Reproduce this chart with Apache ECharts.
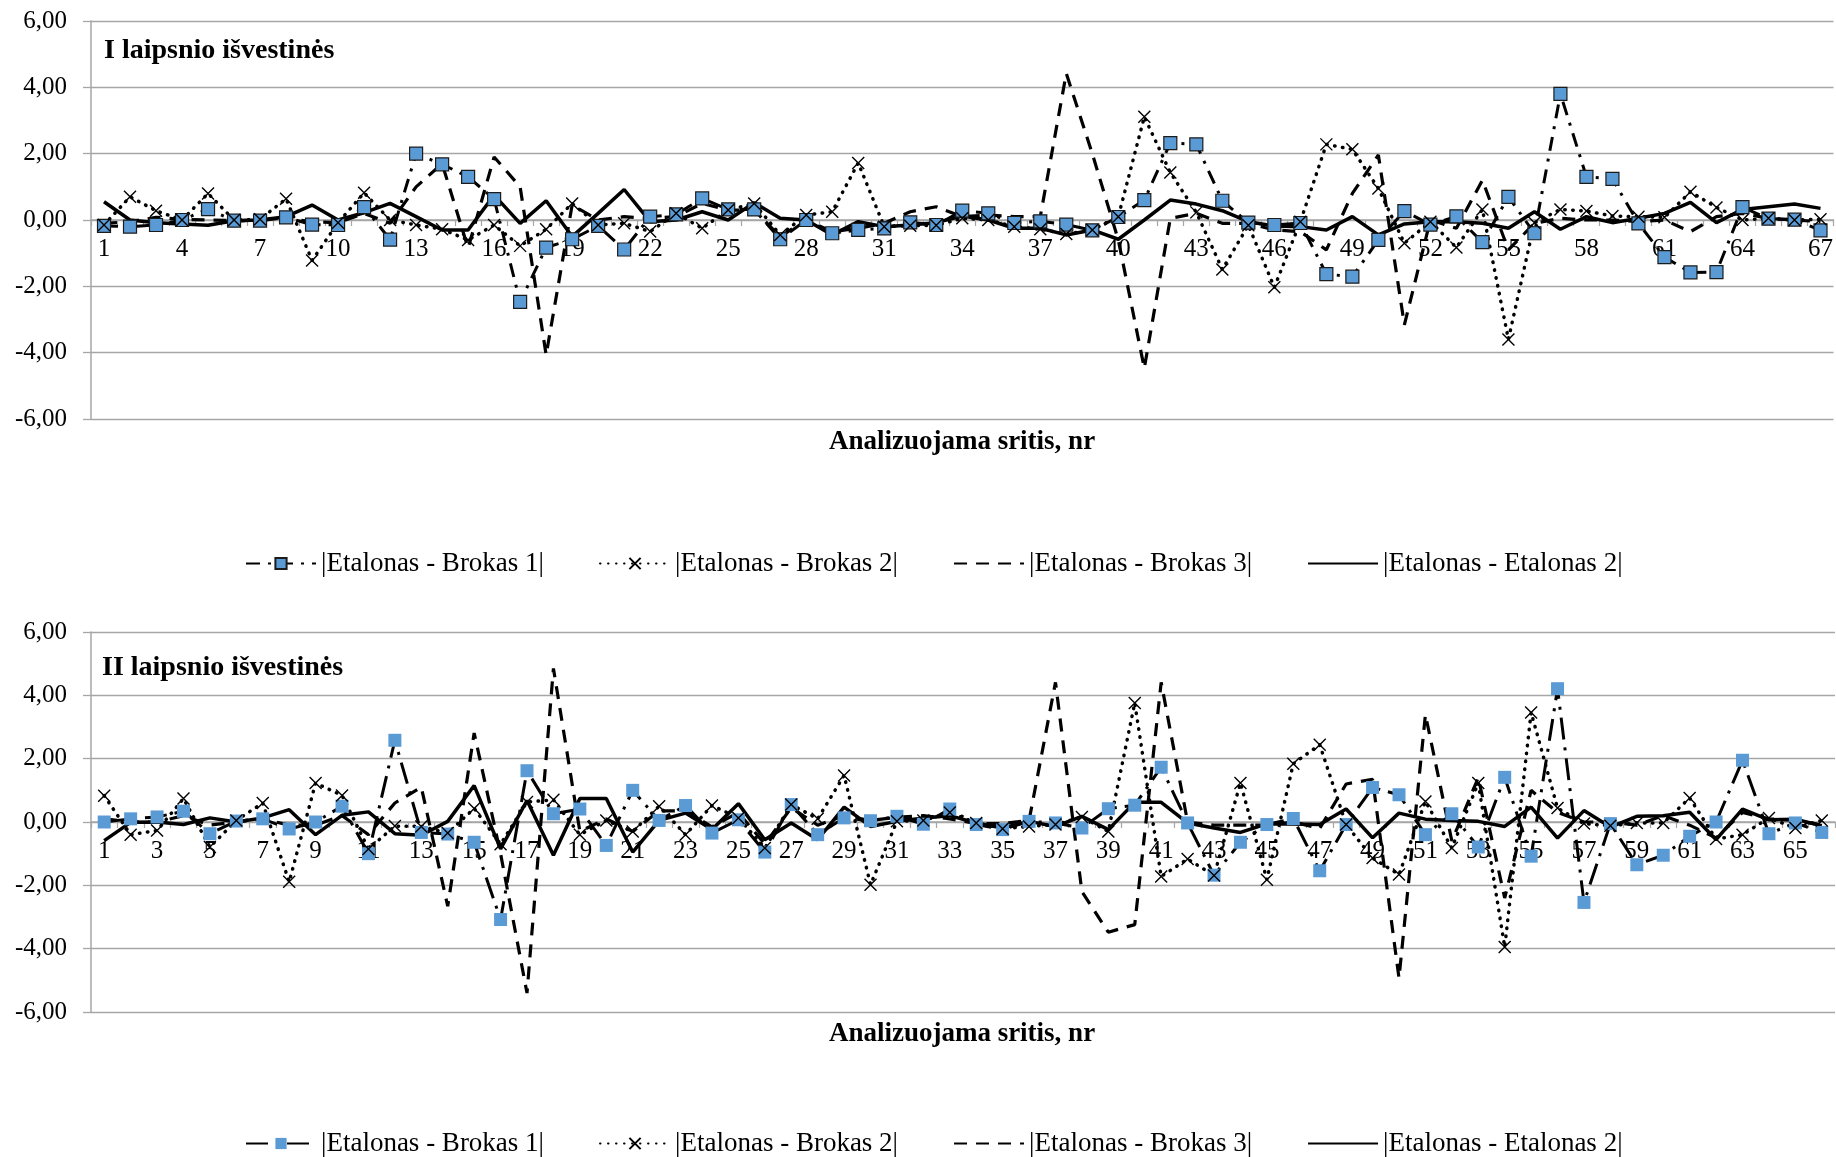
<!DOCTYPE html>
<html><head><meta charset="utf-8">
<script src="https://cdn.jsdelivr.net/npm/echarts@6/dist/echarts.min.js"></script>
<style>html,body{margin:0;padding:0;background:#fff}#c{width:1836px;height:1157px}</style>
</head><body><div id="c"></div>
<script>
const NAMES = ['|Etalonas - Brokas 1|', '|Etalonas - Brokas 2|', '|Etalonas - Brokas 3|', '|Etalonas - Etalonas 2|'];
const TITLE_TOP = 'I laipsnio išvestinės';
const TITLE_BOT = 'II laipsnio išvestinės';
const X_NAME = 'Analizuojama sritis, nr';
const Y_TICKS = [-6, -4, -2, 0, 2, 4, 6];

const catsTop = Array.from({length: 67}, (_, i) => String(i + 1));
const catsBot = Array.from({length: 66}, (_, i) => String(i + 1));

// I laipsnio išvestinės
const topB1 = [-0.18,-0.20,-0.15,0.00,0.33,-0.02,-0.02,0.08,-0.14,-0.15,0.39,-0.59,2.00,1.68,1.30,0.63,-2.47,-0.83,-0.58,-0.18,-0.89,0.10,0.17,0.65,0.32,0.32,-0.58,0.00,-0.40,-0.30,-0.25,-0.07,-0.15,0.28,0.20,-0.09,-0.04,-0.14,-0.31,0.09,0.60,2.32,2.28,0.58,-0.08,-0.15,-0.09,-1.63,-1.71,-0.60,0.27,-0.14,0.11,-0.67,0.70,-0.40,3.80,1.30,1.24,-0.10,-1.12,-1.58,-1.57,0.39,0.04,0.01,-0.31];
const topB2 = [-0.15,0.70,0.28,0.00,0.80,0.00,0.02,0.64,-1.22,-0.08,0.82,0.00,-0.15,-0.28,-0.60,-0.15,-0.78,-0.28,0.50,-0.15,-0.10,-0.35,0.20,-0.25,0.30,0.50,-0.45,0.15,0.25,1.72,-0.20,-0.17,-0.16,0.05,0.00,-0.20,-0.28,-0.42,-0.30,0.10,3.11,1.43,0.23,-1.49,-0.16,-2.03,-0.05,2.28,2.13,0.95,-0.70,-0.05,-0.83,0.32,-3.60,-0.08,0.32,0.27,0.12,0.10,0.08,0.85,0.38,0.00,0.05,0.00,0.02];
const topB3 = [-0.10,-0.05,0.08,0.02,0.00,-0.02,0.00,0.05,-0.05,-0.08,0.20,-0.10,1.00,1.70,-0.85,1.90,1.00,-4.07,0.45,0.00,0.10,0.05,0.10,0.50,0.30,0.30,-0.50,0.00,-0.35,-0.25,-0.10,0.25,0.40,0.10,0.15,0.10,0.10,4.42,2.00,-0.60,-4.47,0.05,0.20,-0.10,-0.10,-0.30,-0.35,-0.90,0.80,1.96,-3.16,0.00,-0.25,1.20,-0.90,-0.10,0.05,0.00,0.00,-0.05,0.00,-0.35,0.10,0.20,0.05,0.00,-0.05];
const topE2 = [0.55,0.00,-0.08,-0.12,-0.16,-0.02,0.00,0.10,0.45,0.00,0.22,0.50,0.10,-0.30,-0.30,0.75,-0.10,0.58,-0.50,0.20,0.92,-0.05,0.00,0.25,0.00,0.52,0.05,0.00,-0.45,-0.05,-0.20,-0.15,-0.08,0.12,0.00,-0.25,-0.25,-0.45,-0.30,-0.58,0.00,0.60,0.48,0.28,-0.05,-0.18,-0.20,-0.30,0.10,-0.45,-0.12,-0.05,-0.05,-0.10,-0.25,0.25,-0.28,0.10,-0.08,0.05,0.20,0.53,-0.08,0.32,0.40,0.48,0.35];

// II laipsnio išvestinės
const botB1 = [0.00,0.10,0.16,0.34,-0.37,0.03,0.10,-0.22,0.00,0.50,-1.00,2.58,-0.33,-0.38,-0.64,-3.08,1.62,0.26,0.41,-0.74,1.00,0.05,0.52,-0.35,0.07,-0.95,0.55,-0.40,0.13,0.04,0.18,-0.07,0.41,-0.08,-0.24,0.02,-0.03,-0.19,0.42,0.53,1.73,-0.03,-1.68,-0.64,-0.08,0.11,-1.54,-0.08,1.09,0.86,-0.40,0.26,-0.79,1.41,-1.08,4.21,-2.54,-0.05,-1.35,-1.05,-0.45,0.00,1.95,-0.37,-0.03,-0.33];
const botB2 = [0.83,-0.40,-0.27,0.74,-0.79,0.05,0.60,-1.89,1.23,0.84,-0.85,-0.13,-0.14,-0.35,0.43,-0.70,0.63,0.70,-0.40,0.05,-0.30,0.50,-0.40,0.52,0.13,-0.82,0.55,0.10,1.47,-1.98,0.02,0.05,0.30,-0.03,-0.21,-0.14,-0.08,0.16,-0.30,3.76,-1.72,-1.17,-1.69,1.23,-1.82,1.84,2.44,-0.08,-1.14,-1.66,0.65,-0.82,1.23,-3.95,3.46,0.44,-0.05,-0.12,-0.03,-0.03,0.76,-0.54,-0.40,0.13,-0.19,0.05];
const botB3 = [0.10,0.00,0.00,0.20,-0.10,0.00,0.10,-0.10,-0.10,0.20,-0.40,0.60,1.10,-2.66,2.81,-1.00,-5.40,4.85,-0.30,0.10,-0.30,0.35,0.35,-0.15,0.30,-0.70,0.45,-0.10,0.20,0.05,0.15,0.20,0.10,-0.05,-0.05,0.05,4.41,-2.20,-3.48,-3.24,4.41,0.00,-0.10,-0.10,-0.10,0.00,-0.20,1.20,1.35,-4.93,3.39,-0.60,1.40,-2.40,1.00,0.30,0.00,0.00,-0.10,0.20,-0.10,-0.50,0.30,0.10,0.05,-0.10];
const botE2 = [-0.59,-0.01,0.00,-0.08,0.13,0.00,0.13,0.39,-0.40,0.21,0.32,-0.37,-0.42,0.02,1.15,-0.85,0.68,-1.05,0.74,0.74,-0.95,0.05,0.28,-0.24,0.58,-0.56,-0.03,-0.56,0.47,-0.14,0.02,0.13,0.20,-0.03,-0.19,0.02,-0.14,0.18,-0.24,0.62,0.62,-0.03,-0.19,-0.33,-0.06,-0.06,-0.08,0.41,-0.50,0.28,0.09,0.05,0.02,-0.14,0.47,-0.51,0.36,-0.16,0.18,0.20,0.31,-0.56,0.41,0.07,0.09,-0.12];

const FONT = '"Liberation Serif", "Times New Roman", serif';
const GRID_C = '#a6a6a6';
const BLUE = '#5B9BD5';
const XSYM = 'path://M0 0L10 10M10 0L0 10';
const BOT_SUFFIX = '\u200b';
const GRIDS = [
  {left: 91, top: 21, width: 1743, height: 398},
  {left: 91, top: 632, width: 1744, height: 380}
];

function xAxis(gi, cats, labInt) {
  return {
    type: 'category', gridIndex: gi, data: cats, boundaryGap: true, position: 'bottom',
    // place the category axis on the value 0 line (middle of the symmetric -6..6 range)
    offset: -GRIDS[gi].height / 2,
    axisLine: {onZero: false, lineStyle: {color: GRID_C, width: 1.5}},
    axisTick: {show: true, interval: 0, length: 6, lineStyle: {color: GRID_C, width: 1.2}},
    axisLabel: {interval: labInt, margin: 17, fontFamily: FONT, fontSize: 25, color: '#000'},
    splitLine: {show: false}
  };
}
function yAxis(gi) {
  return {
    type: 'value', gridIndex: gi, min: Y_TICKS[0], max: Y_TICKS[Y_TICKS.length - 1], interval: 2,
    axisLine: {show: true, lineStyle: {color: GRID_C, width: 1.5}},
    axisTick: {show: true, length: 8, lineStyle: {color: GRID_C, width: 1.3}},
    splitLine: {show: true, lineStyle: {color: GRID_C, width: 1.3}},
    axisLabel: {margin: 24, fontFamily: FONT, fontSize: 25, color: '#000',
      formatter: v => v.toFixed(2).replace('.', ',')}
  };
}
function mkSeries(gi, suffix, b1, b2, b3, e2, b1dash, b1border) {
  return [
    {name: NAMES[0] + suffix, type: 'line', xAxisIndex: gi, yAxisIndex: gi, data: b1,
      symbol: 'rect', symbolSize: 13,
      itemStyle: {color: BLUE, borderColor: b1border ? '#1b1b1b' : BLUE, borderWidth: b1border ? 1.2 : 0},
      lineStyle: {color: '#000', width: 3, type: b1dash}},
    {name: NAMES[1] + suffix, type: 'line', xAxisIndex: gi, yAxisIndex: gi, data: b2,
      symbol: XSYM, symbolSize: 12,
      itemStyle: {color: 'transparent', borderColor: '#000', borderWidth: 1.4},
      lineStyle: {color: '#000', width: 3.5, type: [0.5, 7.5], cap: 'round'}},
    {name: NAMES[2] + suffix, type: 'line', xAxisIndex: gi, yAxisIndex: gi, data: b3,
      symbol: 'none', showSymbol: false,
      itemStyle: {color: '#000'},
      lineStyle: {color: '#000', width: 3.2, type: [13, 9]}},
    {name: NAMES[3] + suffix, type: 'line', xAxisIndex: gi, yAxisIndex: gi, data: e2,
      symbol: 'none', showSymbol: false,
      itemStyle: {color: '#000'},
      lineStyle: {color: '#000', width: 3.5, type: 'solid'}}
  ];
}
function legend(top, suffix) {
  const hidden = {color: 'rgba(0,0,0,0)', borderWidth: 0, opacity: 0};
  return {
    top: top, left: 245, padding: 0, orient: 'horizontal', itemWidth: 70, itemHeight: 14, itemGap: 55,
    data: NAMES.map((n, i) => i >= 2 ? {name: n + suffix, itemStyle: hidden} : {name: n + suffix}),
    textStyle: {fontFamily: FONT, fontSize: 27, color: '#000'},
    selectedMode: false
  };
}
function txt(text, x, y, size, align) {
  return {type: 'text', x: x, y: y, silent: true,
    style: {text: text, fill: '#000', font: 'bold ' + size + 'px ' + FONT,
      textAlign: align, textVerticalAlign: 'middle'}};
}

const chart = echarts.init(document.getElementById('c'), null, {renderer: 'canvas'});
chart.setOption({
  animation: false,
  backgroundColor: '#fff',
  grid: GRIDS,
  xAxis: [xAxis(0, catsTop, 2), xAxis(1, catsBot, 1)],
  yAxis: [yAxis(0), yAxis(1)],
  legend: [legend(550, ''), legend(1130, BOT_SUFFIX)],
  series: [
    ...mkSeries(0, '', topB1, topB2, topB3, topE2, [14, 8, 3, 8], true),
    ...mkSeries(1, BOT_SUFFIX, botB1, botB2, botB3, botE2, [22, 8, 3, 8], false)
  ],
  graphic: [
    txt(TITLE_TOP, 104, 51, 28, 'left'),
    txt(TITLE_BOT, 102, 668, 28, 'left'),
    txt(X_NAME, 962, 442, 27, 'center'),
    txt(X_NAME, 962, 1034, 27, 'center')
  ]
});
</script>
</body></html>
